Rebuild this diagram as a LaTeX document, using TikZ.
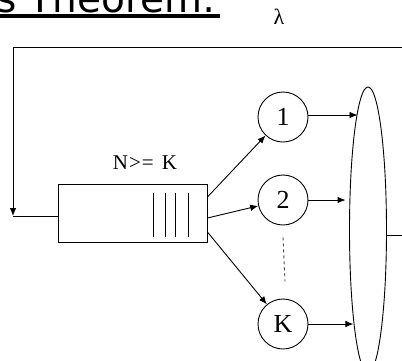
\documentclass[tikz,border=0pt]{standalone}
\usepackage{fontspec}
\setmainfont{Liberation Serif}
\newfontfamily\titlefont{DejaVu Sans}
\usetikzlibrary{shapes.geometric,arrows.meta,calc}
\tikzset{
  ln/.style={line width=0.9pt, draw=black},
  arr/.style={ln, -{Latex[length=8pt,width=6.5pt]}},
  srv/.style={ln, circle, minimum size=50pt, inner sep=0, font=\fontsize{26}{28}\selectfont},
}
\begin{document}
\begin{tikzpicture}[x=1pt,y=-1pt]
\useasboundingbox (0,0) rectangle (402,360);
\clip (0,0) rectangle (402,360);
% title (cropped)
\node[font=\titlefont\fontsize{39}{40}\selectfont, anchor=base west, inner sep=0] (title) at (-4,12) {s Theorem:};
\coordinate (ulL) at (0,16);
\coordinate (ulR) at (220,16);
\draw[line width=3.5pt] (ulL) -- (ulR);
% lambda
\node[font=\fontsize{22}{24}\selectfont, inner sep=0] (lam) at (279,17) {λ};
% queue
\node[ln, draw, minimum width=149pt, minimum height=58pt, inner sep=0] (q) at (132.5,213) {};
\foreach \dx in {-54,-42,-32,-19} {
  \draw[ln] ($(q.north east)+(\dx,9)$) -- ($(q.south east)+(\dx,-5)$);
}
\node[font=\fontsize{21}{23}\selectfont] (lab) at (145,163) {N\kern1pt>\kern1pt=\kern8pt K};
% servers
\node[srv, draw] (c1) at (283,117) {1};
\node[srv, draw] (c2) at (283,200) {2};
\node[srv, draw] (cK) at (283,324) {K};
\draw[ln, dashed, dash pattern=on 3pt off 3pt, draw=black!70] ($(c2.south)+(0,12)$) -- ($(cK.north)+(2,-17)$);
% ellipse
\node[ln, draw, ellipse, minimum width=37pt, minimum height=286pt, inner sep=0] (e) at (368,230) {};
% queue to servers
\draw[arr] ([yshift=16pt]q.east) -- (c1);
\draw[arr] ([yshift=-5pt]q.east) -- (c2);
\draw[arr] ([yshift=-19pt]q.east) -- (cK);
% servers to ellipse
\draw[arr] ([yshift=2pt]c1.east) -- ([yshift=2pt]c1.east -| e.95.6);
\draw[arr, shorten >=3.5pt] (c2.east) -- (c2.east -| e.west);
\draw[arr] (cK.east) -- (cK.east -| e.261.6);
% output
\coordinate (outR) at (404,0);
\draw[ln] (e.-15) -- (e.-15 -| outR);
% feedback
\coordinate (fbR) at (404,47);
\coordinate (fbL) at (13,47);
\coordinate (qin) at ([yshift=-3pt]q.west);
\draw[arr] (fbR) -- (fbL) -- (fbL |- qin);
\draw[ln] (fbL |- qin) -- (qin);
\end{tikzpicture}
\end{document}
